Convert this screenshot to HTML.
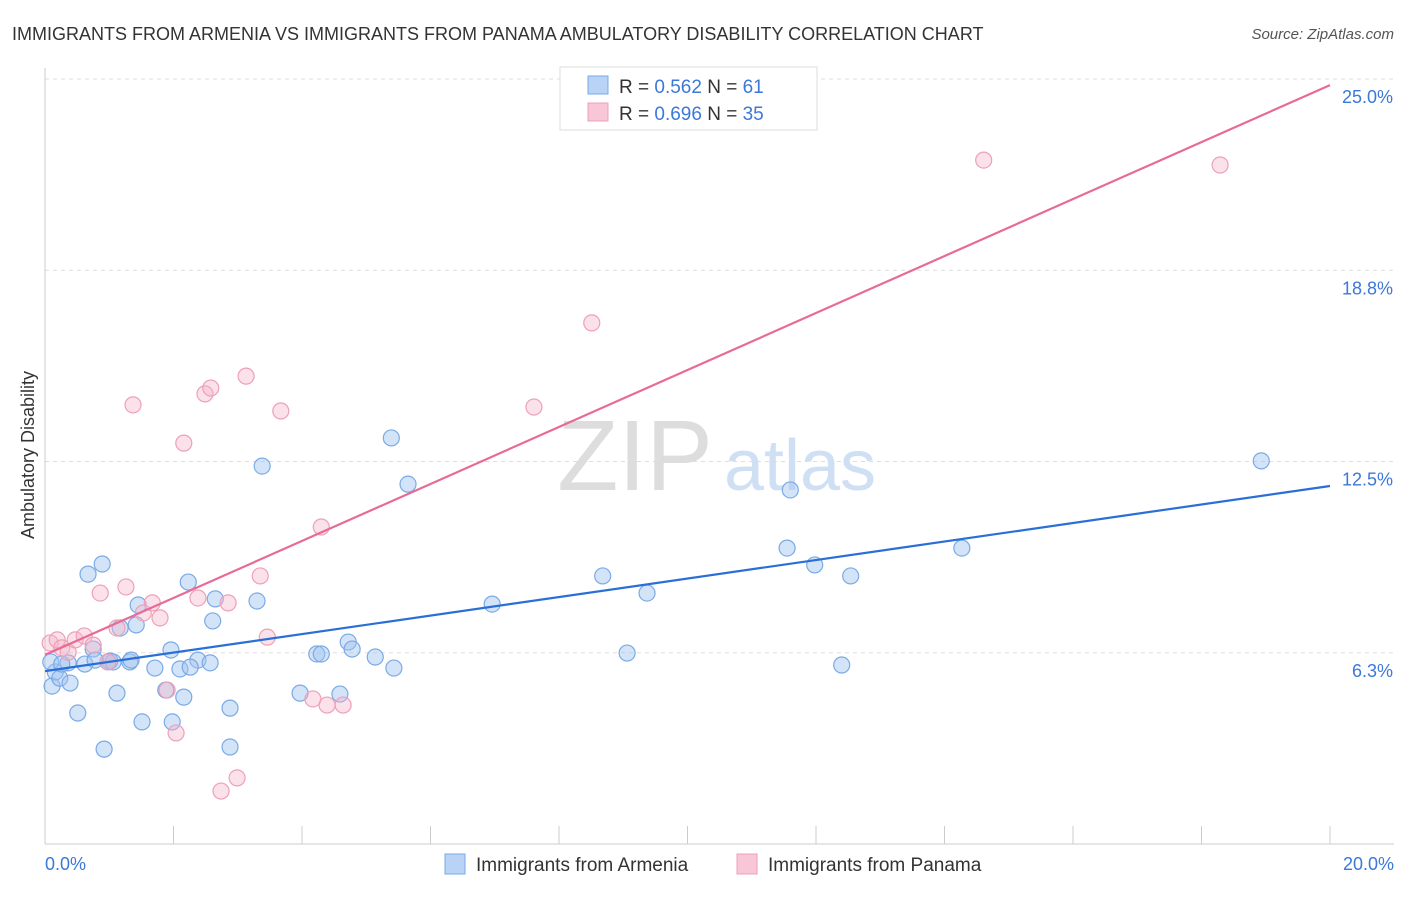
<!DOCTYPE html>
<html><head><meta charset="utf-8"><style>
body{margin:0;background:#fff;font-family:"Liberation Sans",sans-serif;}
svg text{font-family:"Liberation Sans",sans-serif;}
</style></head><body>
<svg width="1406" height="892" viewBox="0 0 1406 892">
<text x="12" y="40" font-size="18" fill="#333">IMMIGRANTS FROM ARMENIA VS IMMIGRANTS FROM PANAMA AMBULATORY DISABILITY CORRELATION CHART</text>
<text x="1394" y="39" font-size="15" fill="#555" font-style="italic" text-anchor="end">Source: ZipAtlas.com</text>
<g>
<text x="635" y="490" font-size="100" font-family="Liberation Serif" fill="#ddd" text-anchor="middle">ZIP</text>
<text x="800" y="490" font-size="72" fill="#cfe0f4" text-anchor="middle">atlas</text>
</g>
<g id="grid"></g>
<g id="axes"></g>
<g id="marks"></g>
<text transform="translate(34,455) rotate(-90)" font-size="18" fill="#333" text-anchor="middle">Ambulatory Disability</text>
<text x="45" y="870" font-size="18" fill="#3b78d8">0.0%</text>
<text x="1394" y="870" font-size="18" fill="#3b78d8" text-anchor="end">20.0%</text>
<g>
<rect x="560" y="67" width="257" height="63" fill="#fff" stroke="#ddd"/>
<rect x="588" y="76" width="20" height="18" fill="#b8d3f5" stroke="#7aaae6"/>
<rect x="588" y="103" width="20" height="18" fill="#f8c6d6" stroke="#eea0b8"/>
<text x="619" y="93" font-size="19" fill="#333">R = <tspan fill="#3b78d8">0.562</tspan>    N =  <tspan fill="#3b78d8">61</tspan></text>
<text x="619" y="120" font-size="19" fill="#333">R = <tspan fill="#3b78d8">0.696</tspan>    N = <tspan fill="#3b78d8">35</tspan></text>
</g>
<g>
<rect x="445" y="854" width="20" height="20" fill="#b8d3f5" stroke="#7aaae6"/>
<text x="476" y="871" font-size="19" fill="#333">Immigrants from Armenia</text>
<rect x="737" y="854" width="20" height="20" fill="#f8c6d6" stroke="#eea0b8"/>
<text x="768" y="871" font-size="19" fill="#333">Immigrants from Panama</text>
</g>
</svg>
<script>
const yTicks=[25.0,18.8,12.5,6.3];
const yTickVals=[25,18.75,12.5,6.25];
const blueX=[0.11,0.16,0.23,0.39,0.36,0.51,0.67,0.89,0.62,0.75,0.92,1.01,1.12,1.06,1.17,1.32,1.45,1.42,1.51,1.71,1.88,1.98,1.96,2.10,2.16,2.23,2.38,2.57,2.61,2.65,2.88,2.88,3.30,3.38,3.97,4.23,4.30,4.59,4.72,4.78,5.14,5.39,5.43,5.65,6.96,8.68,9.06,9.37,11.55,11.60,11.98,12.40,12.54,14.27,18.93,0.09,0.26,0.98,1.34,2.26,0.78];
const blueY=[5.16,5.62,5.42,5.26,5.92,4.28,8.82,9.15,5.88,6.37,3.10,5.98,4.93,5.95,7.06,5.95,7.81,7.16,3.99,5.75,5.03,3.99,6.34,5.72,4.80,8.56,6.01,5.92,7.29,8.01,4.44,3.17,7.94,12.35,4.93,6.21,6.21,4.90,6.60,6.37,6.11,13.27,5.75,11.76,7.84,8.76,6.24,8.20,9.67,11.57,9.12,5.85,8.76,9.67,12.52,5.95,5.88,5.95,6.01,5.78,6.01];
const pinkX=[0.08,0.19,0.26,0.36,0.47,0.61,0.75,0.86,0.98,1.12,1.26,1.37,1.53,1.67,1.79,1.90,2.04,2.16,2.38,2.49,2.58,2.74,2.85,2.99,3.13,3.35,3.46,3.67,4.17,4.30,4.39,4.64,7.61,8.51,14.61,18.29];
const pinkY=[6.57,6.67,6.41,6.27,6.67,6.80,6.50,8.20,5.95,7.06,8.40,14.35,7.55,7.88,7.39,5.03,3.63,13.10,8.04,14.71,14.90,1.73,7.88,2.16,15.29,8.76,6.76,14.15,4.74,10.36,4.54,4.54,14.28,17.03,22.35,22.19];
const blueTrend=[5.65,11.70];
const pinkTrend=[6.18,24.80];
const NS='http://www.w3.org/2000/svg';
const X0=45,X1=1330,YTOP=79,YBOT=844,VMAX=25;
function xs(v){return X0+(v/20)*(X1-X0);}
function ys(v){return YBOT-(v/VMAX)*(YBOT-YTOP);}
function mk(t,a,p){const e=document.createElementNS(NS,t);for(const k in a)e.setAttribute(k,a[k]);p.appendChild(e);return e;}
const grid=document.getElementById('grid'),axes=document.getElementById('axes'),marks=document.getElementById('marks');
yTickVals.forEach((v,i)=>{
 const l=mk('line',{x1:X0,x2:1394,y1:ys(v),y2:ys(v),stroke:'#ddd','stroke-dasharray':'4,4'},grid);
 
 
 const t=mk('text',{x:1393,y:ys(v)+24,'font-size':18,fill:'#3b78d8','text-anchor':'end'},grid);
 t.textContent=yTicks[i].toFixed(1)+'%';
 
 
});
const ax=mk('line',{x1:X0,x2:X0,y1:68,y2:YBOT,stroke:'#ccc'},axes);


const bx=mk('line',{x1:X0,x2:1394,y1:YBOT,y2:YBOT,stroke:'#ccc'},axes);


for(let i=0;i<=10;i++){
 const tk=mk('line',{x1:xs(i*2),x2:xs(i*2),y1:826,y2:YBOT,stroke:'#ccc'},axes);
 
 
}
function pts(X,Y,fill,stroke,name){
 X.forEach((x,i)=>{
  const c=mk('circle',{cx:xs(x),cy:ys(Y[i]),r:8,fill:fill,stroke:stroke,'stroke-width':1.2},marks);
  
  
 });
}
pts(blueX,blueY,'rgba(160,196,240,0.45)','#7aaae6','armenia-point');
pts(pinkX,pinkY,'rgba(245,180,200,0.4)','#eea0b8','panama-point');
const bl=mk('line',{x1:xs(0),y1:ys(blueTrend[0]),x2:xs(20),y2:ys(blueTrend[1]),stroke:'#2a6fd6','stroke-width':2.2},marks);


const pl=mk('line',{x1:xs(0),y1:ys(pinkTrend[0]),x2:xs(20),y2:ys(pinkTrend[1]),stroke:'#e86a96','stroke-width':2.2},marks);


</script>
</body></html>
